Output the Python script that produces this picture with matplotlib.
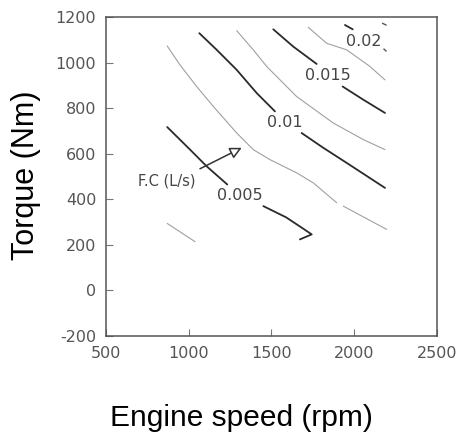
import matplotlib
matplotlib.use("Agg")
import matplotlib.pyplot as plt

plt.rcParams["axes.unicode_minus"] = False

# Contour polylines (engine speed rpm, torque Nm)
gray_005_x = [870, 947, 1048, 1148, 1290, 1390, 1491, 1652, 1753, 1894]
gray_005_y = [1073, 990, 895, 808, 691, 618, 574, 516, 472, 385]
gray_005b_x = [1934, 2196]
gray_005b_y = [370, 268]

black_005_x = [870, 1008, 1108, 1233]
black_005_y = [717, 618, 545, 465]
black_005b_x = [1451, 1588, 1692, 1743, 1672]
black_005b_y = [370, 321, 271, 246, 224]

gray_low_x = [870, 1038]
gray_low_y = [294, 214]

black_01_x = [1064, 1169, 1290, 1411, 1521]
black_01_y = [1129, 1056, 968, 866, 786]
black_01b_x = [1682, 1813, 1954, 2186]
black_01b_y = [691, 626, 560, 450]

gray_01_x = [1290, 1390, 1471, 1652, 1873, 2055, 2186]
gray_01_y = [1140, 1056, 983, 851, 735, 662, 618]

black_015_x = [1511, 1632, 1773]
black_015_y = [1146, 1070, 994]
black_015b_x = [1930, 2055, 2186]
black_015b_y = [895, 837, 779]

gray_015_x = [1722, 1833, 1954, 2095, 2186]
gray_015_y = [1155, 1085, 1056, 983, 924]

black_02_x = [1944, 1991]
black_02_y = [1165, 1146]
mark1_x = [2172, 2192]
mark1_y = [1172, 1165]
mark2_x = [2180, 2192]
mark2_y = [1059, 1051]

label_text = ["0.02", "0.015", "0.01", "0.005"]
label_x = [2055, 1843, 1581, 1306]
label_y = [1092, 942, 735, 417]

xticks = [500, 1000, 1500, 2000, 2500]
yticks = [-200, 0, 200, 400, 600, 800, 1000, 1200]

fig = plt.figure(figsize=(4.59, 4.33), dpi=100)
ax = fig.add_axes([0.2309, 0.224, 0.7211, 0.7367])

BLACK = "#2a2a2a"
GRAY = "#a0a0a0"
bw, gw = 1.3, 0.8

for xs, ys in [(gray_005_x, gray_005_y), (gray_005b_x, gray_005b_y),
               (gray_low_x, gray_low_y), (gray_01_x, gray_01_y),
               (gray_015_x, gray_015_y)]:
    ax.plot(xs, ys, color=GRAY, lw=gw, solid_capstyle="round")
for xs, ys in [(black_005_x, black_005_y), (black_005b_x, black_005b_y),
               (black_01_x, black_01_y), (black_01b_x, black_01b_y),
               (black_015_x, black_015_y), (black_015b_x, black_015b_y),
               (black_02_x, black_02_y)]:
    ax.plot(xs, ys, color=BLACK, lw=bw, solid_capstyle="round")
for xs, ys in [(mark1_x, mark1_y), (mark2_x, mark2_y)]:
    ax.plot(xs, ys, color="#555555", lw=1.0)

for t, x, y in zip(label_text, label_x, label_y):
    ax.text(x, y, t, ha="center", va="center", fontsize=11.5, color="#444444",
            family="DejaVu Sans")

ax.text(869, 479, "F.C (L/s)", ha="center", va="center", fontsize=10.5,
        color="#444444", family="DejaVu Sans")
ax.annotate("", xy=(1320, 626), xytext=(1068, 534),
            arrowprops=dict(arrowstyle="-|>,head_length=0.7,head_width=0.35",
                            fc="white", ec="#333333", lw=1.1,
                            shrinkA=0, shrinkB=0))

ax.set_xlim(500, 2500)
ax.set_ylim(-200, 1200)
ax.set_xticks(xticks)
ax.set_yticks(yticks)
ax.tick_params(direction="in", length=5, width=0.8, color="#777777",
               labelsize=11.5, labelcolor="#555555", pad=7,
               top=False, right=False)
for sp in ax.spines.values():
    sp.set_color("#555555")
    sp.set_linewidth(1.1)

fig.text(26 / 459, 1 - 175 / 433, "Torque (Nm)", rotation=90, ha="center",
         va="center", fontsize=22, family="Liberation Sans", color="black")
fig.text(241 / 459, 1 - 418 / 433, "Engine speed (rpm)", ha="center",
         va="center", fontsize=21.5, family="Liberation Sans", color="black")

fig.savefig("out.png", dpi=100)
